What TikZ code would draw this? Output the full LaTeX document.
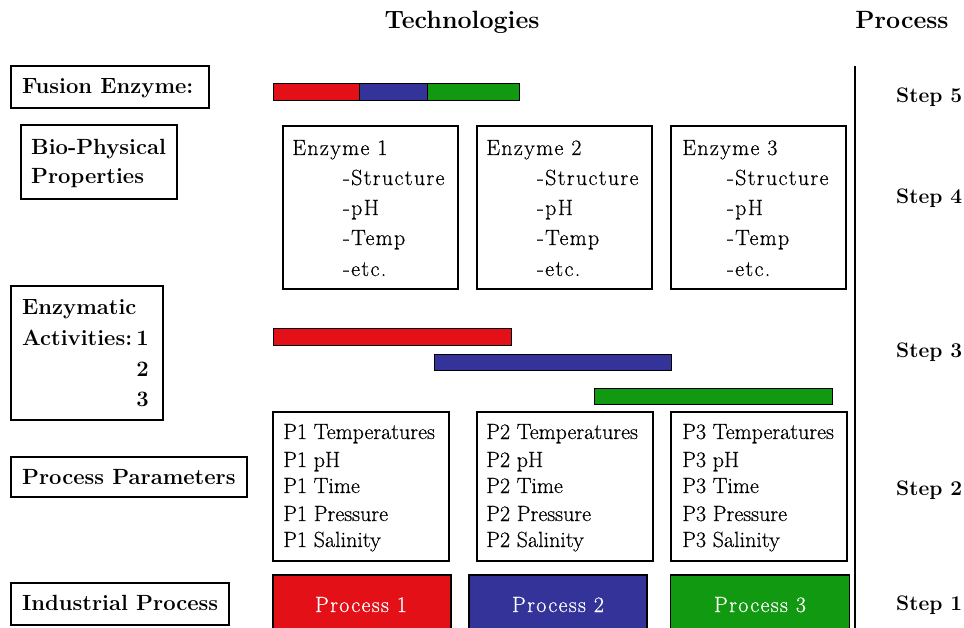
\documentclass[tikz,border=0pt]{standalone}
\usepackage{fontspec}
\newfontfamily\lsA{Latin Modern Roman}
\newfontfamily\lsE{Latin Modern Roman}[LetterSpace=6, FakeBold=0.5]
\newfontfamily\lsP{Latin Modern Roman}[FakeBold=0.5]
\newfontfamily\lsW{Latin Modern Roman}[LetterSpace=6, FakeBold=0.5]
\definecolor{pred}{RGB}{228,16,24}
\definecolor{pblue}{RGB}{51,51,153}
\definecolor{pgreen}{RGB}{17,153,17}
\begin{document}
\begin{tikzpicture}[x=1pt,y=-1pt,
  box/.style={draw, line width=1.4pt, rectangle, inner sep=0pt, outer sep=0pt, anchor=north west},
  bar/.style={draw, line width=1pt, rectangle, inner sep=0pt, outer sep=0pt, anchor=north west},
  lab/.style={font=\lsA\fontsize{22}{26}\selectfont\bfseries, anchor=base west, inner sep=0pt},
  head/.style={font=\lsA\fontsize{25}{28}\selectfont\bfseries, anchor=base, inner sep=0pt},
  steplab/.style={font=\lsA\fontsize{21}{26}\selectfont\bfseries, anchor=base west, inner sep=0pt},
  ebody/.style={font=\lsE\fontsize{22}{26}\selectfont, anchor=base west, inner sep=0pt},
  body/.style={font=\lsP\fontsize{22}{26}\selectfont, anchor=base west, inner sep=0pt},
  plab/.style={font=\lsW\fontsize{22}{26}\selectfont, anchor=base, inner sep=0pt, text=white},
  proc/.style={draw, line width=1.4pt, rectangle, inner sep=0pt, outer sep=0pt, anchor=north west}]
\useasboundingbox (0,0) rectangle (964,628);

% headings
\node[head] (htech) at (462,29) {Technologies};
\node[head] (hproc) at (902,29) {Process};

% vertical process line
\coordinate (vtop) at (855,66);
\coordinate (vbot) at (855,628);
\draw[line width=2.6pt] (vtop) -- (vbot);

% steps
\node[steplab] (s5) at (896,103) {Step 5};
\node[steplab] (s4) at (896,204) {Step 4};
\node[steplab] (s3) at (896,357) {Step 3};
\node[steplab] (s2) at (896,495) {Step 2};
\node[steplab] (s1) at (896,610) {Step 1};

% left labels
\node[box, minimum width=198, minimum height=42] (bfus) at (11,66) {};
\node[lab] (tfus) at (22,94) {Fusion Enzyme:};

\node[box, minimum width=156, minimum height=74] (bbio) at (21,125) {};
\node[lab] (tbio1) at (31,155) {Bio-Physical};
\node[lab] (tbio2) at (31,184) {Properties};

\node[box, minimum width=152, minimum height=134] (bact) at (11,286) {};
\node[lab] (tact1) at (22,315) {Enzymatic};
\node[lab] (tact2) at (22,345) {Activities:};
\node[lab, anchor=base east] (tn1) at (149,345) {1};
\node[lab, anchor=base east] (tn2) at (149,376) {2};
\node[lab, anchor=base east] (tn3) at (149,406) {3};

\node[box, minimum width=236, minimum height=40] (bpar) at (11,457) {};
\node[lab] (tpar) at (22,484) {Process Parameters};

\node[box, minimum width=218, minimum height=42] (bind) at (11,583) {};
\node[lab] (tind) at (22,610) {Industrial Process};

% fusion bar
\node[bar, fill=pred, minimum width=86, minimum height=16.5] (f1) at (273,84) {};
\node[bar, fill=pblue, minimum width=68, minimum height=16.5] (f2) at (359,84) {};
\node[bar, fill=pgreen, minimum width=92.5, minimum height=16.5] (f3) at (427,84) {};

% enzyme boxes
\node[box, minimum width=175, minimum height=163] (e1) at (283,126) {};
\node[box, minimum width=175, minimum height=163] (e2) at (477,126) {};
\node[box, minimum width=175, minimum height=163] (e3) at (671,126) {};
\foreach \i/\x/\d in {1/292/51, 2/486/51, 3/682/45}{
  \node[ebody] (en\i) at (\x,155) {Enzyme \i};
  \node[ebody] (es\i) at (\x+\d,185) {-Structure};
  \node[ebody] (ep\i) at (\x+\d,215) {-pH};
  \node[ebody] (et\i) at (\x+\d,245) {-Temp};
  \node[ebody] (ee\i) at (\x+\d,276) {-etc.};
}

% activity bars
\node[bar, fill=pred, minimum width=238, minimum height=17.5] (a1) at (273,328.5) {};
\node[bar, fill=pblue, minimum width=236.5, minimum height=16.5] (a2) at (434.5,354.3) {};
\node[bar, fill=pgreen, minimum width=238.5, minimum height=16.5] (a3) at (594.3,388.3) {};

% parameter boxes
\node[box, minimum width=176, minimum height=149] (p1) at (273,412) {};
\node[box, minimum width=176, minimum height=149] (p2) at (477,412) {};
\node[box, minimum width=176, minimum height=149] (p3) at (671,412) {};
\foreach \i/\x in {1/283, 2/486, 3/682}{
  \node[body] (pt\i) at (\x,439) {P\i{} Temperatures};
  \node[body] (pp\i) at (\x,467) {P\i{} pH};
  \node[body] (pm\i) at (\x,493) {P\i{} Time};
  \node[body] (pr\i) at (\x,521) {P\i{} Pressure};
  \node[body] (ps\i) at (\x,547) {P\i{} Salinity};
}

% process boxes
\node[proc, fill=pred, minimum width=178, minimum height=60] (pb1) at (273,575) {};
\node[proc, fill=pblue, minimum width=178, minimum height=60] (pb2) at (469,575) {};
\node[proc, fill=pgreen, minimum width=179, minimum height=60] (pb3) at (670.5,575) {};
\node[plab] (prl1) at (361,612) {Process 1};
\node[plab] (prl2) at (558,612) {Process 2};
\node[plab] (prl3) at (760,612) {Process 3};
\end{tikzpicture}
\end{document}
